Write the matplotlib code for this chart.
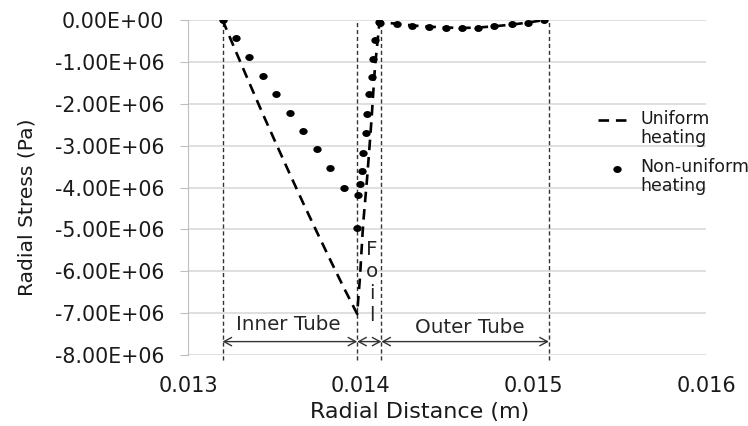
import matplotlib
matplotlib.use("Agg")
import matplotlib.pyplot as plt
from matplotlib.lines import Line2D
from matplotlib.path import Path
from matplotlib.transforms import Affine2D
from matplotlib.ticker import FuncFormatter, MultipleLocator

plt.rcParams['font.family'] = ['DejaVu Sans']

# radial positions (m) of the computed points in each layer
r_inner = [0.01320, 0.013278, 0.013356, 0.013434, 0.013512, 0.013590,
           0.013668, 0.013746, 0.013824, 0.013902, 0.013980]
r_foil = [0.013986, 0.013996, 0.014009, 0.014015, 0.014029, 0.014038,
          0.014050, 0.014064, 0.014073, 0.014083, 0.014108]
r_outer = [0.014112, 0.014209, 0.014299, 0.014396, 0.014493, 0.014589,
           0.014682, 0.014774, 0.014875, 0.014971, 0.015064]

# radial stress (Pa)
uni_inner = [0, -0.76e6, -1.51e6, -2.25e6, -2.97e6, -3.68e6,
             -4.38e6, -5.06e6, -5.73e6, -6.39e6, -7.02e6]
uni_foil = [-6.66e6, -6.15e6, -5.23e6, -4.84e6, -4.17e6, -3.74e6,
            -3.09e6, -2.31e6, -1.73e6, -1.11e6, -0.10e6]
uni_outer = [-0.05e6, -0.09e6, -0.13e6, -0.16e6, -0.18e6, -0.19e6,
             -0.18e6, -0.15e6, -0.11e6, -0.06e6, 0]

non_inner = [0, -0.44e6, -0.89e6, -1.34e6, -1.77e6, -2.23e6,
             -2.65e6, -3.09e6, -3.54e6, -4.00e6, -4.96e6]
non_foil = [-4.18e6, -3.92e6, -3.60e6, -3.17e6, -2.70e6, -2.25e6,
            -1.77e6, -1.35e6, -0.93e6, -0.48e6, -0.04e6]
non_outer = [-0.06e6, -0.10e6, -0.14e6, -0.17e6, -0.20e6, -0.20e6,
             -0.18e6, -0.14e6, -0.095e6, -0.06e6, 0]

# layer boundaries (m) and names
bounds = [0.01320, 0.01398, 0.01412, 0.01509]
layer_names = ["Inner Tube", "F\no\ni\nl", "Outer Tube"]

legend_labels = ["Uniform\nheating", "Non-uniform\nheating"]

TXT = '#1a1a1a'
# the source picture is a bit wider than tall, so the dots are too
dot = Path(Affine2D().scale(1.2, 1.0).transform(Path.unit_circle().vertices),
           Path.unit_circle().codes)

fig = plt.figure(figsize=(7.48, 4.26), dpi=100)
ax = fig.add_axes([188/748, 1-355/426, 518/748, 335/426])

r_all = r_inner + r_foil + r_outer
uni_all = uni_inner + uni_foil + uni_outer
non_all = non_inner + non_foil + non_outer

ax.plot(r_all, uni_all, color='black', lw=1.9, dashes=(4, 2.6), zorder=3)
ax.plot(r_all, non_all, ls='none', marker=dot, color='black', ms=6,
        mec='none', zorder=4)

# layer boundaries
ax.vlines(bounds, -8.12e6, 0, colors='#333333', lw=1,
          linestyles=(0, (3, 2)), clip_on=False, zorder=2)

# layer extents
arrow_y = -7.68e6
for a, b in zip(bounds[:-1], bounds[1:]):
    ax.annotate("", xy=(b, arrow_y), xytext=(a, arrow_y),
                arrowprops=dict(arrowstyle='<->,head_length=0.55,head_width=0.3',
                                color='#333333', lw=1, shrinkA=0, shrinkB=0))
ax.text(0.013579, -7.28e6, layer_names[0], fontsize=14.3, ha='center',
        va='center', color='#262626')
ax.text(0.014065, -6.27e6, layer_names[1], fontsize=14.3, ha='center',
        va='center', color='#262626', linespacing=1.2)
ax.text(0.014633, -7.34e6, layer_names[2], fontsize=14.3, ha='center',
        va='center', color='#262626')

ax.set_xlim(0.013, 0.016)
ax.set_ylim(-8e6, 0)
ax.xaxis.set_major_locator(MultipleLocator(0.001))
ax.yaxis.set_major_locator(MultipleLocator(1e6))
ax.xaxis.set_major_formatter(FuncFormatter(lambda v, p: f"{v:.3f}"))
ax.yaxis.set_major_formatter(FuncFormatter(lambda v, p: f"{v:.2E}"))

ax.grid(axis='y', color='#d9d9d9', lw=1.2)
ax.set_axisbelow(True)
for s in ['top', 'right', 'bottom']:
    ax.spines[s].set_visible(False)
ax.spines['left'].set_color('#bfbfbf')
ax.tick_params(axis='y', length=6, color='#bfbfbf', pad=11,
               labelsize=14.8, labelcolor=TXT)
ax.tick_params(axis='x', length=0, pad=15, labelsize=15,
               labelcolor=TXT)

ax.set_xlabel("Radial Distance (m)", fontsize=16, color=TXT)
ax.xaxis.set_label_coords(0.448, -0.14)
ax.set_ylabel("Radial Stress (Pa)", fontsize=14.6, color=TXT)
ax.yaxis.set_label_coords(-0.292, 0.44)

# legend (handles aligned with first line of each label, as in the source)
fig.add_artist(Line2D([598/748, 627/748], [1-120/426, 1-120/426],
                      color='black', lw=1.9, dashes=(4, 2.6)))
fig.add_artist(Line2D([617/748], [1-169/426], marker=dot, color='black',
                      ms=6, mec='none'))
fig.text(640/748, 1-110/426, legend_labels[0], fontsize=12.5, va='top',
         color=TXT, linespacing=1.1)
fig.text(640/748, 1-158/426, legend_labels[1], fontsize=12.5, va='top',
         color=TXT, linespacing=1.1)

fig.savefig("out.png", dpi=100)
